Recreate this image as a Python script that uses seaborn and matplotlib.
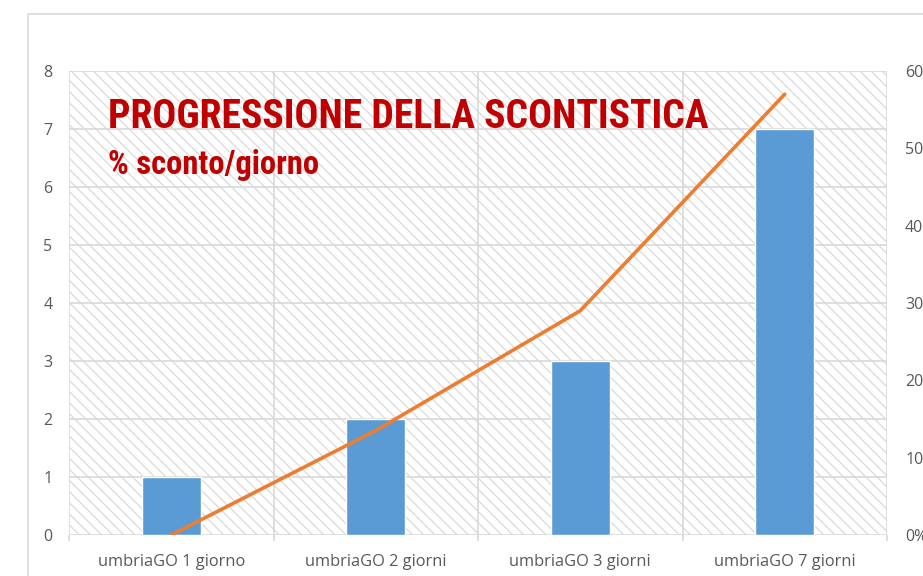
import matplotlib
matplotlib.use("Agg")
import matplotlib.pyplot as plt
import matplotlib.patches as mpatches
from matplotlib import font_manager as fm
from matplotlib.ticker import FuncFormatter, FixedLocator
import seaborn as sns
import pandas as pd

# data
categorie = ["umbriaGO 1 giorno", "umbriaGO 2 giorni", "umbriaGO 3 giorni", "umbriaGO 7 giorni"]
giorni = [1, 2, 3, 7]
sconto = [0.0, 0.135, 0.29, 0.57]

df = pd.DataFrame({"cat": categorie, "giorni": giorni, "sconto": sconto})

sns.set_theme(style="white")
plt.rcParams["font.family"] = ["Open Sans", "DejaVu Sans"]
plt.rcParams["hatch.color"] = "#dadada"
plt.rcParams["hatch.linewidth"] = 0.9

grey = "#d9d9d9"
txt = "#595959"

fig = plt.figure(figsize=(9.23, 5.76), dpi=100)
ax = fig.add_axes([69 / 923, 41 / 576, (887 - 69) / 923, (535 - 71) / 576])

# hatched plot area
ax.patch.set_facecolor("white")
ax.patch.set_hatch("\\\\\\")
ax.patch.set_edgecolor("#dadada")

sns.barplot(data=df, x="cat", y="giorni", color="#5b9bd5", width=0.29,
            saturation=1, ax=ax, zorder=3)
ax.set_ylim(0, 8)
ax.set_xlim(-0.5, 3.5)
ax.set_yticks(range(0, 9))
ax.yaxis.grid(True, color=grey, lw=1.2)
for xb in [-0.5, 0.5, 1.5, 2.5, 3.5]:
    ax.axvline(xb, color=grey, lw=1.2, zorder=1)
ax.set_axisbelow(True)
for s in ax.spines.values():
    s.set_visible(False)
ax.set_xlabel("")
ax.set_ylabel("")
ax.tick_params(axis="y", length=0, pad=12, labelsize=11.5, labelcolor=txt)
ax.tick_params(axis="x", which="major", length=0, pad=14, labelsize=11.8, labelcolor=txt)
ax.xaxis.set_minor_locator(FixedLocator([-0.5, 0.5, 1.5, 2.5, 3.5]))
ax.tick_params(axis="x", which="minor", length=4, color=grey, width=1.2, bottom=True)

ax2 = ax.twinx()
sns.lineplot(data=df, x="cat", y="sconto", color="#ed7d31", lw=2.6, ax=ax2, sort=False)
ax2.set_ylim(0, 0.6)
ax2.set_yticks([0, 0.1, 0.2, 0.3, 0.4, 0.5, 0.6])
ax2.yaxis.set_major_formatter(FuncFormatter(lambda v, p: f"{v * 100:.0f}%"))
ax2.tick_params(axis="y", length=0, pad=13, labelsize=11.5, labelcolor=txt)
ax2.set_ylabel("")
ax2.set_xlabel("")
ax2.grid(False)
for s in ax2.spines.values():
    s.set_visible(False)

# outer chart border
fig.patches.append(mpatches.Rectangle((28 / 923, -0.1), 2, (576 - 14) / 576 + 0.1,
                                      transform=fig.transFigure, fill=False,
                                      edgecolor=grey, lw=1.2))

# pick a narrow bold face for the title if one is there
names = {f.name for f in fm.fontManager.ttflist}
stretch = "normal"
title_family = "Liberation Sans"
for cand in ["Liberation Sans Narrow", "Roboto Condensed", "Open Sans Condensed"]:
    if cand in names:
        title_family = cand
        break
else:
    if any(f.name == "DejaVu Sans" and "ondensed" in f.fname for f in fm.fontManager.ttflist):
        title_family = "DejaVu Sans"
        stretch = "condensed"

red = "#c00000"
t1 = fig.text(108 / 923, (576 - 128) / 576, "PROGRESSIONE DELLA SCONTISTICA",
              color=red, fontsize=28.5, fontweight="bold", family=title_family,
              stretch=stretch, va="baseline")
t2 = fig.text(108 / 923, (576 - 174) / 576, "% sconto/giorno",
              color=red, fontsize=23.5, fontweight="bold", family=title_family,
              stretch=stretch, va="baseline")

# squeeze the title to the width it takes in the reference
r = fig.canvas.get_renderer()
for t, w in [(t1, 614), (t2, 222)]:
    cur = t.get_window_extent(r).width
    if cur > w:
        t.set_fontsize(t.get_fontsize() * w / cur)

fig.savefig("out.png", dpi=100)
